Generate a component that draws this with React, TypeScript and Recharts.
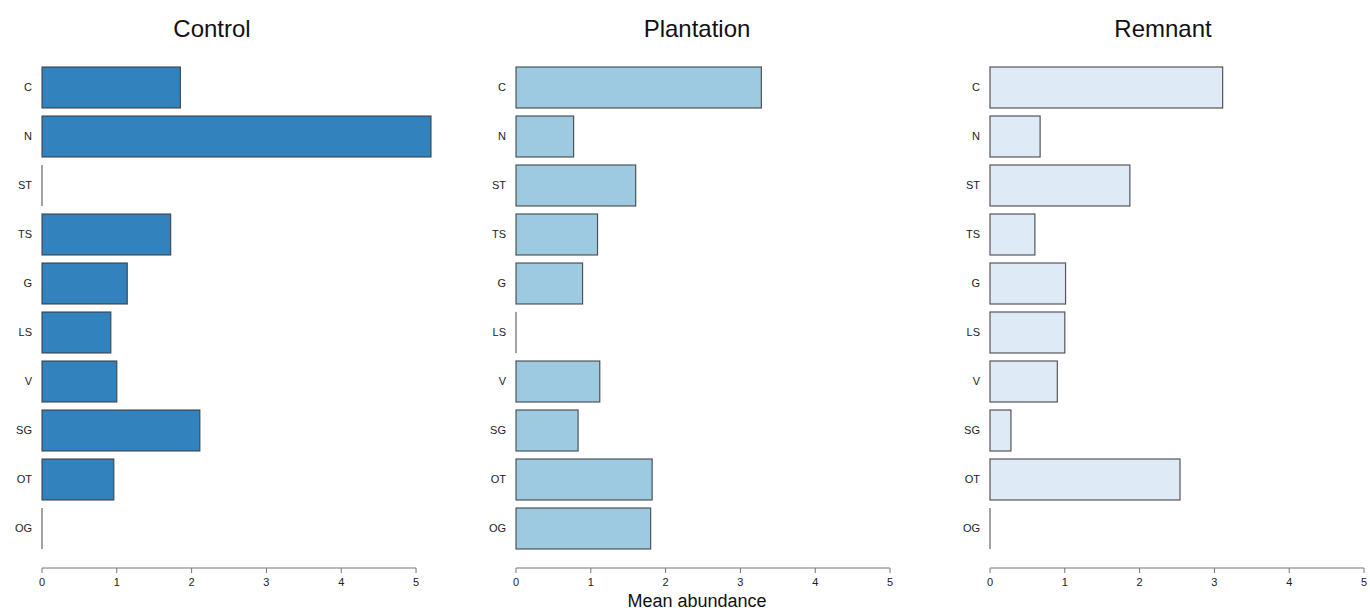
import React from "react";
import { BarChart, Bar, XAxis, YAxis } from "recharts";

const categories = ["C", "N", "ST", "TS", "G", "LS", "V", "SG", "OT", "OG"];
const controlValues = [1.85, 5.2, 0, 1.72, 1.14, 0.92, 1.0, 2.11, 0.96, 0];
const plantationValues = [3.28, 0.77, 1.6, 1.09, 0.89, 0, 1.12, 0.83, 1.82, 1.8];
const remnantValues = [3.11, 0.67, 1.87, 0.6, 1.01, 1.0, 0.9, 0.28, 2.54, 0];
const xTicks = [0, 1, 2, 3, 4, 5];

// shared scale across the three panels; the longest bar runs past the last tick
const xMax = Math.max(
  xTicks[xTicks.length - 1],
  ...controlValues,
  ...plantationValues,
  ...remnantValues
);

const FONT = "'Liberation Sans', Arial, Helvetica, sans-serif";

const CHART_W = 435;
const Y_AXIS_W = 42;
const MARGIN_R = 4;
const TICK_SIZE = 5;
const TICK_MARGIN = 5;
const PLOT_W = CHART_W - Y_AXIS_W - MARGIN_R;
// axis line only runs from the first to the last tick (R style)
const AXIS_LEN = (PLOT_W / xMax) * (xTicks[xTicks.length - 1] - xTicks[0]);

const XTick = (props: any) => {
  const { x, y, payload, index } = props;
  const axisY = y - TICK_SIZE - TICK_MARGIN;
  return (
    <g>
      {index === 0 && (
        <line x1={x} x2={x + AXIS_LEN} y1={axisY} y2={axisY} stroke="#777" strokeWidth={1} />
      )}
      <text x={x} y={y} dy="0.71em" textAnchor="middle" fontSize={11} fill="#222" fontFamily={FONT}>
        {payload.value}
      </text>
    </g>
  );
};

// zero bars still get a thin edge line, like base R barplot
const BarShape = (props: any) => {
  const { x, y, width, height, fill } = props;
  if (!width || width < 0.5) {
    return <line x1={x} x2={x} y1={y} y2={y + height} stroke="#666" strokeWidth={1.2} />;
  }
  return (
    <rect x={x} y={y} width={width} height={height} fill={fill} stroke="#3a3a3a" strokeOpacity={0.85} strokeWidth={1.2} />
  );
};

type PanelProps = {
  title: string;
  values: number[];
  color: string;
  left: number;
  titleX: number;
};

const Panel = ({ title, values, color, left, titleX }: PanelProps) => {
  const data = categories.map((name, i) => ({ name, value: values[i] }));
  return (
    <>
      <div
        style={{
          position: "absolute",
          left: titleX - 100,
          width: 200,
          top: 15,
          textAlign: "center",
          fontSize: 24,
          fontFamily: FONT,
          color: "#111",
        }}
      >
        {title}
      </div>
      <div style={{ position: "absolute", left, top: 0 }}>
        <BarChart
          width={CHART_W}
          height={610}
          data={data}
          layout="vertical"
          margin={{ top: 63, right: MARGIN_R, bottom: 12, left: 0 }}
          barCategoryGap={4}
        >
          <XAxis
            type="number"
            domain={[0, xMax]}
            ticks={xTicks}
            height={30}
            tickSize={TICK_SIZE}
            tickMargin={TICK_MARGIN}
            axisLine={false}
            tick={<XTick />}
            tickLine={{ stroke: "#777" }}
          />
          <YAxis
            type="category"
            dataKey="name"
            width={Y_AXIS_W}
            axisLine={false}
            tickLine={false}
            tickSize={0}
            tickMargin={10}
            padding={{ top: 0, bottom: 15 }}
            tick={{ fontSize: 11, fill: "#222", fontFamily: FONT }}
            interval={0}
          />
          <Bar dataKey="value" fill={color} shape={BarShape} isAnimationActive={false} />
        </BarChart>
      </div>
    </>
  );
};

const App = () => {
  return (
    <div
      style={{
        position: "absolute",
        left: 0,
        top: 0,
        width: 1370,
        height: 610,
        background: "#fff",
        fontFamily: FONT,
      }}
    >
      <Panel title="Control" values={controlValues} color="#3182bd" left={0} titleX={212} />
      <Panel title="Plantation" values={plantationValues} color="#9ecae1" left={474} titleX={697} />
      <Panel title="Remnant" values={remnantValues} color="#deebf7" left={948} titleX={1163} />
      <div
        style={{
          position: "absolute",
          left: 597,
          width: 200,
          top: 591,
          textAlign: "center",
          fontSize: 18,
          fontFamily: FONT,
          color: "#111",
        }}
      >
        Mean abundance
      </div>
    </div>
  );
};

export default App;
